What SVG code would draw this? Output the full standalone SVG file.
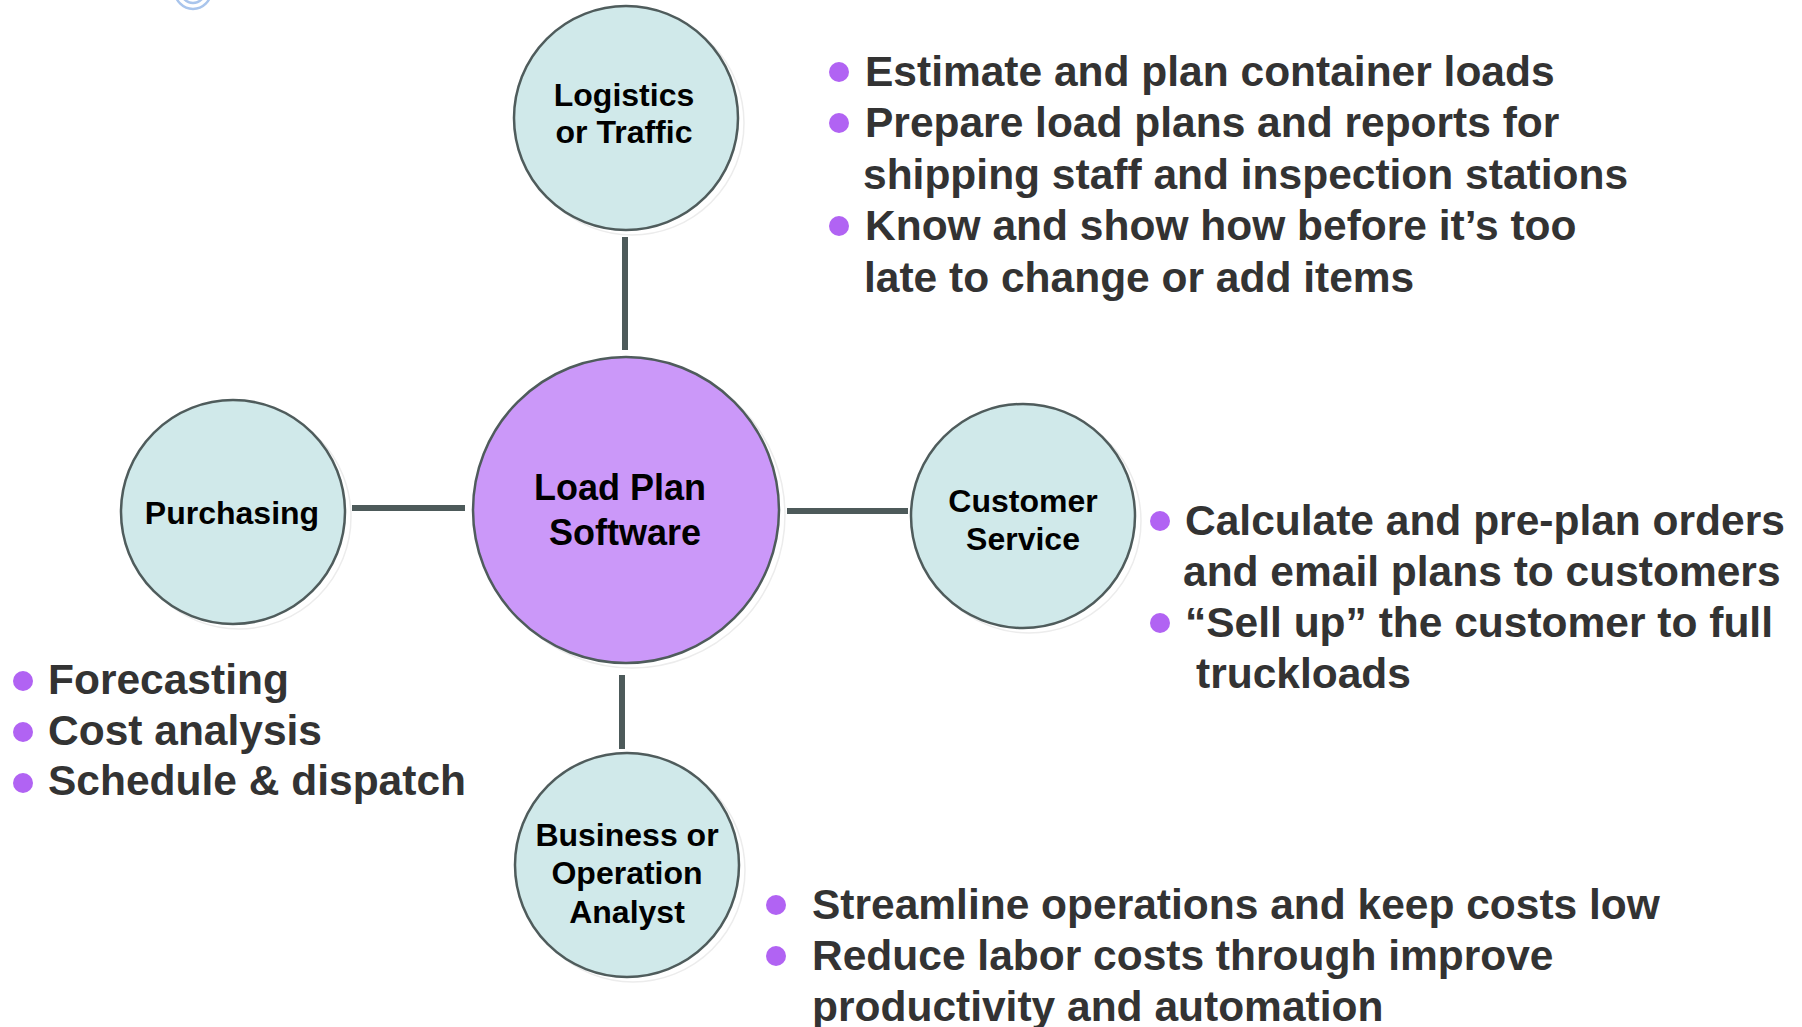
<svg xmlns="http://www.w3.org/2000/svg" width="1802" height="1027" viewBox="0 0 1802 1027">
  <style>
    .node { fill: #d0e9ea; stroke: #4f5c5c; stroke-width: 2.5; }
    .hub { fill: #cb98f9; stroke: #4f5c5c; stroke-width: 2.5; }
    .shadow { fill: #ffffff; stroke: #ececec; stroke-width: 1.5; }
    .lbl { font-family: "Liberation Sans", Arial, sans-serif; font-weight: bold; font-size: 32px; fill: #000000; text-anchor: middle; }
    .hublbl { font-family: "Liberation Sans", Arial, sans-serif; font-weight: bold; font-size: 36px; fill: #000000; text-anchor: middle; }
    .bt { font-family: "Liberation Sans", Arial, sans-serif; font-weight: bold; font-size: 42.5px; fill: #333333; }
    .dot { fill: #b163f3; }
    .conn { stroke: #4d5a5a; stroke-width: 6; fill: none; }
  </style>
  <rect width="1802" height="1027" fill="#ffffff"/>

  <g id="corner-icon" fill="none" stroke="#a9c5ec" stroke-width="2.5">
    <circle cx="193" cy="-9" r="18"/>
    <circle cx="193" cy="-9" r="12"/>
  </g>

  <g id="connectors">
    <line class="conn" x1="625" y1="237" x2="625" y2="350"/>
    <line class="conn" x1="352" y1="508" x2="465" y2="508"/>
    <line class="conn" x1="787" y1="511" x2="908" y2="511"/>
    <line class="conn" x1="622" y1="675" x2="622" y2="749"/>
  </g>

  <g id="node-logistics">
    <circle class="shadow" cx="632" cy="123" r="112"/>
    <circle class="node" cx="626" cy="118" r="112"/>
    <text class="lbl" x="624" y="106">Logistics</text>
    <text class="lbl" x="624" y="143">or Traffic</text>
  </g>

  <g id="node-hub">
    <circle class="shadow" cx="632" cy="515" r="153"/>
    <circle class="hub" cx="626" cy="510" r="153"/>
    <text class="hublbl" x="620" y="500">Load Plan</text>
    <text class="hublbl" x="625" y="545">Software</text>
  </g>

  <g id="node-purchasing">
    <circle class="shadow" cx="239" cy="517" r="112"/>
    <circle class="node" cx="233" cy="512" r="112"/>
    <text class="lbl" x="232" y="524">Purchasing</text>
  </g>

  <g id="node-customer">
    <circle class="shadow" cx="1029" cy="521" r="112"/>
    <circle class="node" cx="1023" cy="516" r="112"/>
    <text class="lbl" x="1023" y="512">Customer</text>
    <text class="lbl" x="1023" y="550">Service</text>
  </g>

  <g id="node-business">
    <circle class="shadow" cx="633" cy="870" r="112"/>
    <circle class="node" cx="627" cy="865" r="112"/>
    <text class="lbl" x="627" y="846">Business or</text>
    <text class="lbl" x="627" y="884">Operation</text>
    <text class="lbl" x="627" y="923">Analyst</text>
  </g>

  <g id="notes-logistics">
    <circle class="dot" cx="839" cy="72" r="10"/>
    <circle class="dot" cx="839" cy="123" r="10"/>
    <circle class="dot" cx="839" cy="226" r="10"/>
    <text class="bt" x="865" y="85.5">Estimate and plan container loads</text>
    <text class="bt" x="865" y="137">Prepare load plans and reports for</text>
    <text class="bt" x="863" y="188.5">shipping staff and inspection stations</text>
    <text class="bt" x="865" y="240">Know and show how before it’s too</text>
    <text class="bt" x="864" y="291.5">late to change or add items</text>
  </g>

  <g id="notes-purchasing">
    <circle class="dot" cx="23" cy="681" r="10"/>
    <circle class="dot" cx="23" cy="732" r="10"/>
    <circle class="dot" cx="23" cy="783" r="10"/>
    <text class="bt" x="48" y="694">Forecasting</text>
    <text class="bt" x="48" y="744.5">Cost analysis</text>
    <text class="bt" x="48" y="795">Schedule &amp; dispatch</text>
  </g>

  <g id="notes-customer">
    <circle class="dot" cx="1160" cy="521" r="10"/>
    <circle class="dot" cx="1160" cy="623" r="10"/>
    <text class="bt" x="1185" y="535">Calculate and pre-plan orders</text>
    <text class="bt" x="1183" y="586">and email plans to customers</text>
    <text class="bt" x="1185" y="637">“Sell up” the customer to full</text>
    <text class="bt" x="1196" y="688">truckloads</text>
  </g>

  <g id="notes-business">
    <circle class="dot" cx="776" cy="905" r="10"/>
    <circle class="dot" cx="776" cy="956" r="10"/>
    <text class="bt" x="812" y="918.5">Streamline operations and keep costs low</text>
    <text class="bt" x="812" y="969.5">Reduce labor costs through improve</text>
    <text class="bt" x="812" y="1020.5">productivity and automation</text>
  </g>
</svg>
